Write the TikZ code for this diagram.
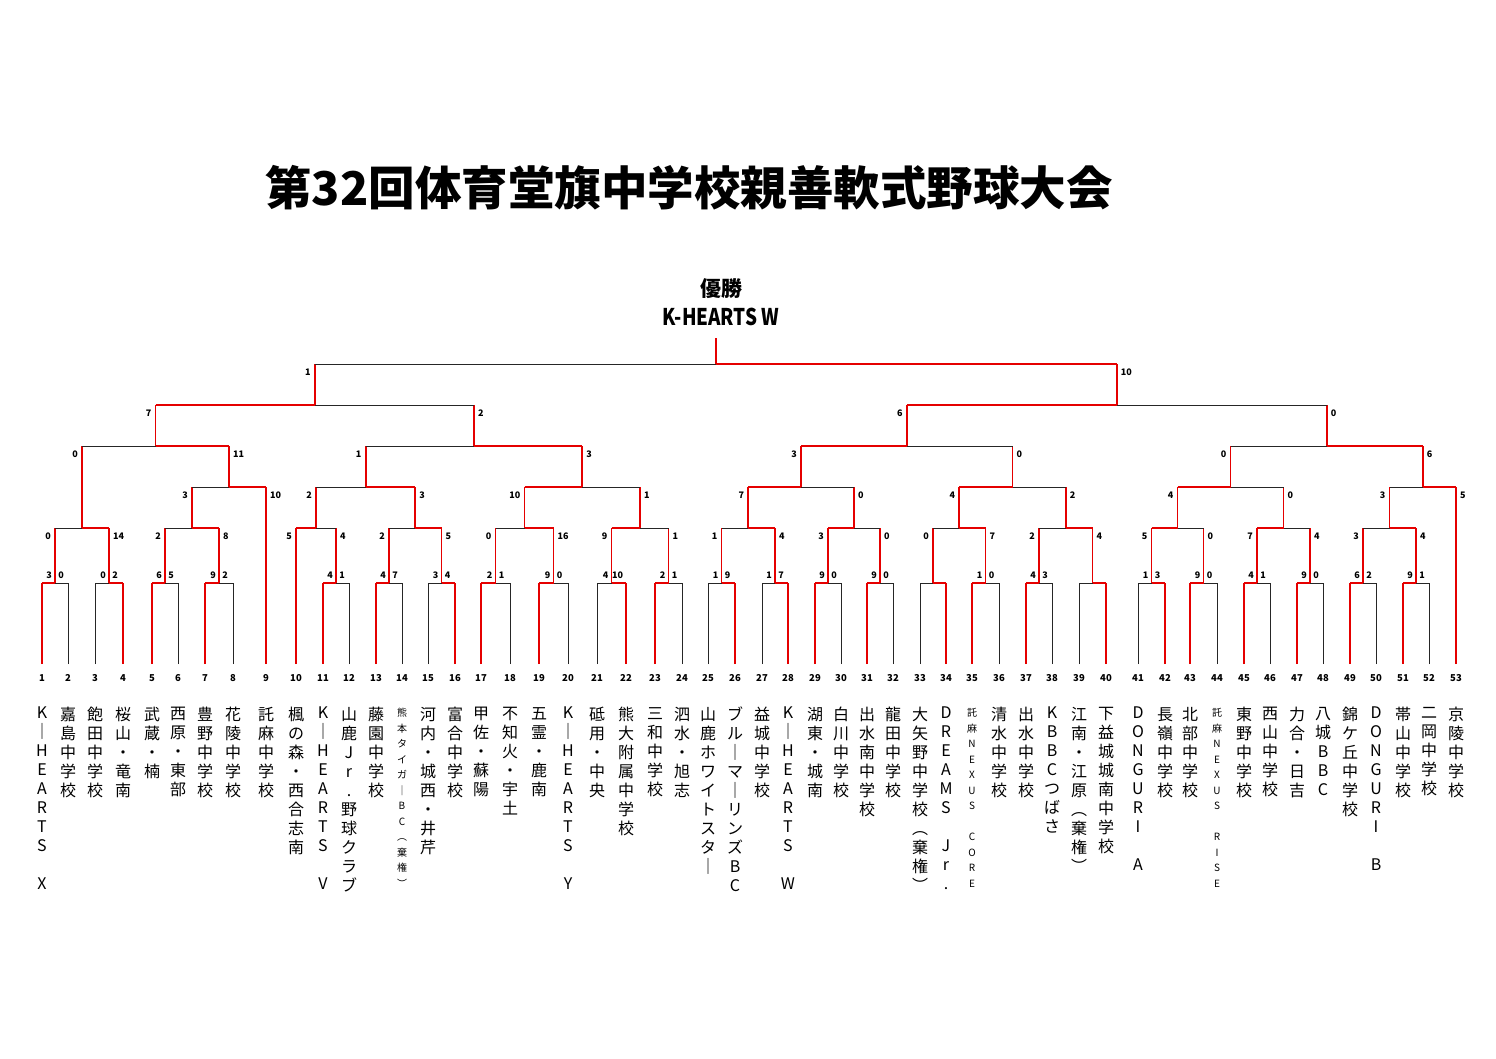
\documentclass[tikz,border=0pt]{standalone}
\usepackage{fontspec}
\setmainfont{Noto Sans CJK JP}
\usetikzlibrary{positioning}

\tikzset{
  win/.style={draw=red!90!black, line width=1.8pt},
  lose/.style={draw=black!85, line width=0.7pt},
  score/.style={font=\fontsize{9}{9}\selectfont\bfseries, inner sep=0pt},
  num/.style={font=\fontsize{9.5}{9.5}\selectfont\bfseries, inner sep=0pt},
  team/.style={anchor=north, align=center, inner sep=0pt, font=\fontsize{16}{19}\selectfont},
  smallteam/.style={anchor=north, align=center, inner sep=0pt, font=\fontsize{10}{15.5}\selectfont},
}

% stack the letters of a name one under the other
\def\vstackloop#1{\ifx#1\relax\else#1\\\expandafter\vstackloop\fi}
\newcommand\vname[1]{\expandafter\vstackloop#1\relax}

% one game: name, left, right, y, y of parent, winner L/R, scores
\newcommand\match[8]{%
  \edef\xl{\csname mx#2\endcsname}\edef\xr{\csname mx#3\endcsname}%
  \pgfmathsetmacro\xm{(\xl+\xr)/2}%
  \expandafter\xdef\csname mx#1\endcsname{\xm}%
  \if L#6
    \draw[lose] (\xm,#4) -- (\xr,#4);
    \draw[win] (\xl,#4) -- (\xm,#4);
  \else
    \draw[lose] (\xl,#4) -- (\xm,#4);
    \draw[win] (\xm,#4) -- (\xr,#4);
  \fi
  \draw[win] (\xm,#4) -- (\xm,#5);
  \ifdim#4pt=583pt
    \node[score] (s#1l) at (\xm-6,#4-8) {#7};
    \node[score] (s#1r) at (\xm+6,#4-8) {#8};
  \else
    \node[score, anchor=east] (s#1l) at (\xl-4,#4+8) {#7};
    \node[score, anchor=west] (s#1r) at (\xr+4,#4+8) {#8};
  \fi
}

\begin{document}
\begin{tikzpicture}[x=1pt, y=-1pt]
  \useasboundingbox (0,0) rectangle (1496,1058);

  \node (title) at (689,188) {\fontsize{46.5}{46.5}\selectfont\bfseries 第32回体育堂旗中学校親善軟式野球大会};
  \node[font=\fontsize{21}{21}\selectfont\bfseries] (yusho) at (721,289) {優勝};
  \node[font=\fontsize{23}{23}\selectfont\bfseries, xscale=0.82, below=2pt of yusho] (champ) {K-HEARTS W};

  %Teams: number, x, top of line, state, name
  \foreach \i/\x/\t/\s/\n in {1/42/583/win/K｜HEARTS~X, 2/68/583/lose/嘉島中学校, 3/95/583/lose/飽田中学校,
      4/123/583/win/桜山・竜南, 5/152/583/win/武蔵・楠, 6/178/583/lose/西原・東部, 7/205/583/win/豊野中学校,
      8/233/583/lose/花陵中学校, 9/266/487/win/託麻中学校, 10/296/528/win/楓の森・西合志南,
      11/323/583/win/K｜HEARTS~V, 12/349/583/lose/山鹿Jr.野球クラブ, 13/376/583/win/藤園中学校,
      14/402/583/lose/{}, 15/428/583/lose/河内・城西・井芹, 16/455/583/win/富合中学校,
      17/481/583/win/甲佐・蘇陽, 18/510/583/lose/不知火・宇土, 19/539/583/win/五霊・鹿南,
      20/568/583/lose/K｜HEARTS~Y, 21/597/583/lose/砥用・中央, 22/626/583/win/熊大附属中学校,
      23/655/583/win/三和中学校, 24/682/583/lose/泗水・旭志, 25/708/583/lose/山鹿ホワイトスタ｜,
      26/735/583/win/ブル｜マ｜リンズBC, 27/762/583/lose/益城中学校, 28/788/583/win/K｜HEARTS~W,
      29/815/583/win/湖東・城南, 30/841/583/lose/白川中学校, 31/867/583/win/出水南中学校,
      32/893/583/lose/龍田中学校, 33/920/583/lose/大矢野中学校︵棄権︶, 34/946/583/win/DREAMS~Jr.,
      35/972/583/win/{}, 36/999/583/lose/清水中学校, 37/1026/583/win/出水中学校,
      38/1052/583/lose/KBBCつばさ, 39/1079/583/lose/江南・江原︵棄権︶, 40/1106/583/win/下益城城南中学校,
      41/1138/583/lose/DONGURI~A, 42/1165/583/win/長嶺中学校, 43/1190/583/win/北部中学校,
      44/1217/583/lose/{}, 45/1244/583/win/東野中学校, 46/1270/583/lose/西山中学校,
      47/1297/583/win/力合・日吉, 48/1323/583/lose/八城BBC, 49/1350/583/win/錦ケ丘中学校,
      50/1376/583/lose/DONGURI~B, 51/1403/583/win/帯山中学校, 52/1429/583/lose/二岡中学校,
      53/1456/487/win/京陵中学校} {
    \expandafter\xdef\csname mx\i\endcsname{\x}
    \draw[\s] (\x,664) -- (\x,\t);
    \node[num] (n\i) at (\x,678) {\i};
    \node[team] (name\i) at (\x,707) {\vname{\n}};
  }
  \node[smallteam] (name14) at (402,708) {\vname{熊本タイガ｜BC︵棄権︶}};
  \node[smallteam] (name35) at (972,708) {\vname{託麻NEXUS~CORE}};
  \node[smallteam] (name44) at (1217,708) {\vname{託麻NEXUS~RISE}};

  %First round
  \match{a1}{1}{2}{583}{528}{L}{3}{0}
  \match{a2}{3}{4}{583}{528}{R}{0}{2}
  \match{a3}{5}{6}{583}{528}{L}{6}{5}
  \match{a4}{7}{8}{583}{528}{L}{9}{2}
  \match{a5}{11}{12}{583}{528}{L}{4}{1}
  \match{a6}{13}{14}{583}{528}{L}{4}{7}
  \match{a7}{15}{16}{583}{528}{R}{3}{4}
  \match{a8}{17}{18}{583}{528}{L}{2}{1}
  \match{a9}{19}{20}{583}{528}{L}{9}{0}
  \match{a10}{21}{22}{583}{528}{R}{4}{10}
  \match{a11}{23}{24}{583}{528}{L}{2}{1}
  \match{a12}{25}{26}{583}{528}{R}{1}{9}
  \match{a13}{27}{28}{583}{528}{R}{1}{7}
  \match{a14}{29}{30}{583}{528}{L}{9}{0}
  \match{a15}{31}{32}{583}{528}{L}{9}{0}
  \match{a16}{33}{34}{583}{528}{R}{}{}
  \match{a17}{35}{36}{583}{528}{L}{1}{0}
  \match{a18}{37}{38}{583}{528}{L}{4}{3}
  \match{a19}{39}{40}{583}{528}{R}{}{}
  \match{a20}{41}{42}{583}{528}{R}{1}{3}
  \match{a21}{43}{44}{583}{528}{L}{9}{0}
  \match{a22}{45}{46}{583}{528}{L}{4}{1}
  \match{a23}{47}{48}{583}{528}{L}{9}{0}
  \match{a24}{49}{50}{583}{528}{L}{6}{2}
  \match{a25}{51}{52}{583}{528}{L}{9}{1}

  %Second round
  \match{b1}{a1}{a2}{528}{446}{R}{0}{14}
  \match{b2}{a3}{a4}{528}{487}{R}{2}{8}
  \match{b3}{10}{a5}{528}{487}{L}{5}{4}
  \match{b4}{a6}{a7}{528}{487}{R}{2}{5}
  \match{b5}{a8}{a9}{528}{487}{R}{0}{16}
  \match{b6}{a10}{a11}{528}{487}{L}{9}{1}
  \match{b7}{a12}{a13}{528}{487}{R}{1}{4}
  \match{b8}{a14}{a15}{528}{487}{L}{3}{0}
  \match{b9}{a16}{a17}{528}{487}{R}{0}{7}
  \match{b10}{a18}{a19}{528}{487}{R}{2}{4}
  \match{b11}{a20}{a21}{528}{487}{L}{5}{0}
  \match{b12}{a22}{a23}{528}{487}{L}{7}{4}
  \match{b13}{a24}{a25}{528}{487}{R}{3}{4}

  %Third round
  \match{c1}{b2}{9}{487}{446}{R}{3}{10}
  \match{c2}{b3}{b4}{487}{446}{R}{2}{3}
  \match{c3}{b5}{b6}{487}{446}{L}{10}{1}
  \match{c4}{b7}{b8}{487}{446}{L}{7}{0}
  \match{c5}{b9}{b10}{487}{446}{L}{4}{2}
  \match{c6}{b11}{b12}{487}{446}{L}{4}{0}
  \match{c7}{b13}{53}{487}{446}{R}{3}{5}

  %Quarter, semi, final
  \match{d1}{b1}{c1}{446}{405}{R}{0}{11}
  \match{d2}{c2}{c3}{446}{405}{R}{1}{3}
  \match{d3}{c4}{c5}{446}{405}{L}{3}{0}
  \match{d4}{c6}{c7}{446}{405}{R}{0}{6}
  \match{e1}{d1}{d2}{405}{364}{L}{7}{2}
  \match{e2}{d3}{d4}{405}{364}{L}{6}{0}
  \match{f}{e1}{e2}{364}{338}{R}{1}{10}
\end{tikzpicture}
\end{document}
